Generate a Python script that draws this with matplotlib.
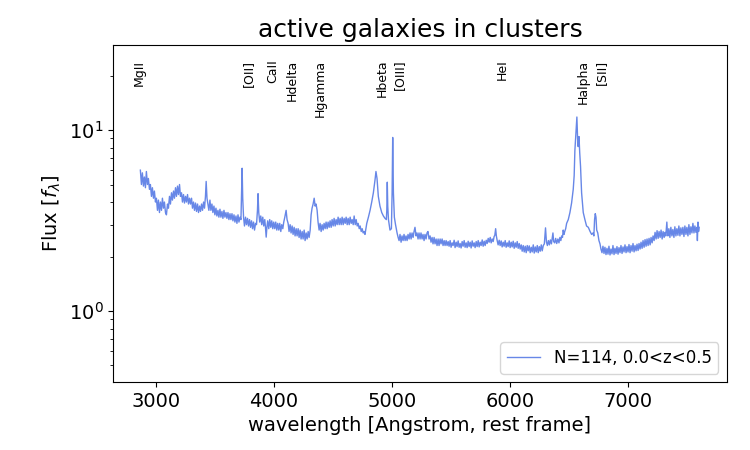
import matplotlib
matplotlib.use("Agg")
import matplotlib.pyplot as plt

# ---- spectrum (rest-frame wavelength [A], flux f_lambda) ----
wave = [
    2866, 2875, 2883, 2892, 2900, 2909, 2917, 2926, 2934, 2943,
    2951, 2960, 2968, 2977, 2985, 2994,
    3002, 3011, 3019, 3028, 3036, 3045, 3053, 3062, 3070, 3079, 3087, 3096,
    3104, 3113, 3121, 3130, 3138, 3147, 3155, 3164, 3172, 3181, 3189, 3198, 3206,
    3215, 3223, 3232, 3240, 3249, 3257, 3266, 3274, 3283, 3291, 3300,
    3308, 3317, 3325, 3334, 3342, 3351, 3359, 3368, 3376, 3385, 3393, 3402, 3410, 3418, 3424, 3431,
    3439, 3447, 3456, 3464, 3473, 3481, 3490, 3498, 3507, 3515,
    3524, 3532, 3541, 3549, 3558, 3566, 3575, 3583, 3592, 3600, 3609, 3617, 3626, 3634,
    3643, 3651, 3660, 3668, 3677, 3685, 3694, 3702, 3711, 3719,
    3724, 3729, 3734,
    3741, 3749, 3758, 3766, 3775, 3783, 3792, 3800, 3809, 3817, 3826, 3834, 3843, 3851, 3859, 3864, 3870,
    3878, 3887, 3895, 3904, 3912, 3921, 3927, 3933, 3939,
    3946, 3955, 3963, 3972, 3980, 3989, 3997, 4006, 4014, 4023, 4031, 4040, 4048, 4057, 4065, 4074, 4082, 4091, 4102, 4110,
    4119, 4127, 4136, 4144, 4153, 4161, 4170, 4178, 4187, 4195, 4204, 4212, 4221, 4229, 4238, 4246, 4255, 4263, 4272, 4280, 4289, 4297, 4306,
    4314, 4322, 4331, 4340, 4348, 4356, 4365, 4373,
    4382, 4390, 4399, 4407, 4416, 4424, 4433, 4441, 4450, 4458, 4467,
    4475, 4484, 4492, 4501, 4509, 4518, 4526, 4535, 4543, 4552, 4560, 4569, 4577, 4586, 4594, 4603, 4611, 4620, 4628, 4637, 4645, 4654, 4662, 4671, 4679, 4688, 4696,
    4705, 4713, 4722, 4730, 4739, 4747, 4756, 4764, 4771, 4786,
    4800, 4814, 4828, 4842, 4856, 4864, 4873, 4884, 4898, 4913, 4927, 4941, 4952, 4956, 4960, 4964, 4970, 4983, 4995, 5001, 5006, 5012, 5020, 5030, 5043, 5052,
    5060, 5068, 5077, 5085, 5094, 5102, 5111, 5119, 5128,
    5136, 5145, 5153, 5162, 5170, 5179, 5187, 5195, 5204, 5212, 5221, 5229, 5238, 5246, 5255, 5263, 5272, 5280, 5289, 5297, 5305, 5314,
    5323, 5331, 5340, 5348, 5357, 5365, 5374, 5382, 5391, 5399, 5408, 5416, 5425, 5433, 5442, 5450, 5459,
    5467, 5476, 5484, 5493, 5501, 5510, 5518, 5527, 5535, 5544, 5552, 5561, 5569, 5578, 5586, 5595, 5603, 5612, 5620, 5629,
    5637, 5646, 5654, 5663, 5671, 5680, 5688, 5697, 5705, 5714, 5722, 5731, 5739, 5748, 5756, 5765, 5773, 5782, 5790, 5799,
    5807, 5816, 5824, 5833, 5841, 5850, 5858, 5866, 5872, 5879, 5885, 5892,
    5900, 5909, 5917, 5926, 5934, 5943, 5951, 5960, 5968, 5977, 5985, 5994, 6002, 6011, 6019, 6028, 6036, 6045, 6053, 6062, 6070, 6079,
    6087, 6096, 6104, 6113, 6121, 6130, 6138, 6147, 6155, 6164, 6172, 6181, 6189, 6198, 6206, 6215, 6223, 6232, 6240, 6249,
    6257, 6266, 6274, 6283, 6292, 6302, 6310,
    6318, 6326, 6335, 6343, 6352, 6358, 6365, 6371, 6380, 6388, 6397,
    6407, 6416, 6424, 6432, 6439, 6446, 6452, 6459, 6465, 6473, 6481, 6495, 6509, 6523, 6537, 6545, 6551, 6559, 6568, 6574,
    6579, 6586, 6592, 6599, 6608,
    6622, 6636, 6650, 6665, 6680, 6693, 6705, 6712, 6718, 6724, 6730, 6736, 6745, 6755, 6764,
    6772, 6781, 6789, 6798, 6806, 6815, 6823, 6832, 6840, 6849, 6857, 6866, 6874, 6883, 6891, 6900, 6908, 6917, 6925, 6934,
    6942, 6951, 6959, 6968, 6976, 6985, 6993, 7002, 7010, 7019, 7027, 7036, 7044, 7053, 7061, 7070, 7078, 7087, 7095,
    7104, 7112, 7121, 7129, 7138, 7146, 7155, 7163, 7172, 7180, 7189, 7197, 7206,
    7214, 7223, 7231, 7240, 7248, 7257, 7265, 7274, 7282, 7291, 7299, 7308, 7316, 7322, 7328, 7331, 7336, 7340,
    7348, 7357, 7365, 7374, 7382, 7391, 7399, 7408, 7416, 7425, 7433, 7442, 7450, 7459, 7467, 7476, 7484, 7493, 7501, 7510,
    7518, 7527, 7535, 7544, 7552, 7561, 7569, 7578, 7586, 7590, 7595, 7600, 7605,
]
flux = [
    6.0, 5.0, 5.8, 4.9, 5.5, 4.8, 5.9, 5.0, 5.4, 4.7,
    5.0, 4.3, 4.8, 4.2, 4.6, 4.0,
    4.2, 3.6, 4.1, 3.5, 4.0, 3.6, 4.2, 3.7, 4.0, 3.5, 3.4, 3.9,
    3.7, 4.3, 3.9, 4.5, 4.1, 4.6, 4.2, 4.8, 4.3, 4.9, 4.4, 5.0, 4.3,
    4.5, 4.0, 4.4, 3.95, 4.3, 4.0, 4.4, 3.9, 4.2, 3.9, 4.2,
    3.7, 4.0, 3.6, 3.95, 3.55, 3.9, 3.5, 3.8, 3.55, 3.9, 3.6, 4.0, 3.7, 4.3, 5.2, 4.2,
    3.9, 3.6, 4.1, 3.6, 3.9, 3.5, 3.8, 3.4, 3.7, 3.35,
    3.6, 3.3, 3.65, 3.3, 3.55, 3.25, 3.6, 3.3, 3.5, 3.25, 3.5, 3.2, 3.45, 3.2,
    3.45, 3.15, 3.4, 3.1, 3.35, 3.05, 3.4, 3.1, 3.3, 3.2,
    4.5, 6.15, 4.2,
    3.3, 2.95, 3.3, 3.0, 3.25, 2.95, 3.2, 2.9, 3.15, 2.85, 3.1, 2.8, 3.05, 3.0, 3.6, 4.45, 3.5,
    3.1, 3.35, 3.0, 3.3, 2.95, 3.2, 2.9, 2.56, 2.9,
    3.15, 2.85, 3.2, 2.9, 3.15, 2.85, 3.1, 2.85, 3.1, 2.8, 3.05, 2.8, 3.05, 2.75, 3.0, 2.85, 3.1, 3.3, 3.6, 3.2,
    3.05, 2.75, 3.0, 2.7, 2.95, 2.65, 2.9, 2.6, 2.85, 2.6, 2.85, 2.55, 2.8, 2.5, 2.75, 2.5, 2.8, 2.45, 2.7, 2.5, 2.75, 2.55, 2.8,
    3.4, 3.7, 3.9, 4.2, 3.8, 3.9, 3.6, 3.1,
    2.8, 3.05, 2.75, 3.0, 2.8, 3.05, 2.85, 3.1, 2.85, 3.1, 2.9,
    3.15, 2.9, 3.2, 2.95, 3.25, 2.95, 3.2, 3.0, 3.3, 3.0, 3.25, 3.0, 3.3, 3.0, 3.25, 3.05, 3.3, 3.0, 3.25, 3.0, 3.3, 3.05, 3.2, 3.0, 3.35, 3.0, 3.2,
    2.95, 3.05, 2.85, 2.95, 2.75, 2.85, 2.7, 2.75, 2.65, 3.05,
    3.3, 3.6, 4.0, 4.5, 5.3, 5.9, 5.4, 4.3, 3.8, 3.5, 3.35, 3.25, 3.2, 3.6, 5.15, 3.8, 3.2, 2.8, 2.85, 4.5, 9.1, 4.5, 3.3, 3.0, 2.7, 2.55,
    2.45, 2.65, 2.4, 2.6, 2.45, 2.65, 2.45, 2.6, 2.45,
    2.65, 2.5, 2.7, 2.5, 2.7, 2.55, 2.75, 2.9, 2.6, 2.7, 2.5, 2.7, 2.5, 2.7, 2.5, 2.65, 2.45, 2.65, 2.5, 2.7, 2.75, 2.5,
    2.6, 2.4, 2.55, 2.35, 2.55, 2.35, 2.5, 2.3, 2.5, 2.3, 2.5, 2.35, 2.5, 2.3, 2.45, 2.3, 2.45,
    2.3, 2.42, 2.28, 2.45, 2.25, 2.38, 2.3, 2.46, 2.24, 2.4, 2.27, 2.44, 2.25, 2.36, 2.23, 2.42, 2.28, 2.45, 2.25, 2.38,
    2.24, 2.43, 2.27, 2.4, 2.23, 2.44, 2.28, 2.38, 2.24, 2.42, 2.27, 2.45, 2.26, 2.4, 2.3, 2.47, 2.28, 2.43, 2.3, 2.46,
    2.36, 2.52, 2.4, 2.55, 2.38, 2.5, 2.42, 2.58, 2.62, 2.85, 2.6, 2.45,
    2.32, 2.46, 2.3, 2.44, 2.26, 2.4, 2.28, 2.45, 2.25, 2.38, 2.27, 2.44, 2.24, 2.4, 2.26, 2.43, 2.22, 2.38, 2.25, 2.42, 2.22, 2.36,
    2.2, 2.32, 2.14, 2.3, 2.12, 2.28, 2.1, 2.3, 2.15, 2.29, 2.1, 2.25, 2.12, 2.32, 2.09, 2.26, 2.12, 2.3, 2.1, 2.27,
    2.14, 2.32, 2.15, 2.3, 2.35, 2.88, 2.4,
    2.3, 2.45, 2.32, 2.47, 2.35, 2.5, 2.7, 2.42, 2.38, 2.52, 2.36,
    2.5, 2.38, 2.55, 2.45, 2.6, 2.55, 2.8, 2.65, 2.75, 2.85, 3.05, 3.2, 3.5, 3.95, 4.7, 5.6, 7.7, 9.5, 11.8, 9.0,
    8.1, 9.2, 7.5, 6.3, 4.5,
    3.5, 3.2, 2.95, 2.9, 2.75, 2.65, 2.7, 2.6, 3.2, 3.45, 3.3, 2.8, 2.7, 2.45, 2.35,
    2.2, 2.1, 2.28, 2.08, 2.25, 2.05, 2.22, 2.06, 2.28, 2.04, 2.2, 2.07, 2.3, 2.05, 2.22, 2.08, 2.27, 2.06, 2.24, 2.1,
    2.3, 2.08, 2.26, 2.12, 2.32, 2.1, 2.27, 2.12, 2.33, 2.1, 2.3, 2.14, 2.36, 2.12, 2.3, 2.15, 2.34, 2.16, 2.36,
    2.2, 2.4, 2.22, 2.45, 2.25, 2.48, 2.28, 2.5, 2.3, 2.52, 2.32, 2.55, 2.38,
    2.6, 2.45, 2.72, 2.5, 2.78, 2.52, 2.75, 2.55, 2.8, 2.5, 2.75, 2.55, 2.72, 2.6, 2.9, 3.1, 2.7, 2.6,
    2.85, 2.55, 2.9, 2.6, 2.82, 2.55, 2.92, 2.6, 2.85, 2.62, 2.95, 2.6, 2.88, 2.65, 2.9, 2.58, 2.95, 2.65, 2.9, 2.6,
    3.0, 2.65, 2.92, 2.7, 3.05, 2.7, 2.95, 2.72, 2.9, 2.45, 3.1, 2.75, 2.9,
]

line_names = ["MgII", "[OII]", "CaII", "Hdelta", "Hgamma", "Hbeta", "[OIII]",
              "HeI", "Halpha", "[SII]"]
line_waves = [2798, 3727, 3934, 4102, 4340, 4861, 5007, 5876, 6563, 6717]

legend_label = "N=114, 0.0<z<0.5"

fig = plt.figure(figsize=(7.5, 4.5), dpi=100)
ax = fig.add_axes([0.151, 0.151, 0.818, 0.749])

ax.plot(wave, flux, color="royalblue", alpha=0.8, lw=1.0, label=legend_label)
ax.set_yscale("log")
ax.set_xlim(2636, 7839)
ax.set_ylim(0.405, 29.5)

for name, w in zip(line_names, line_waves):
    ax.text(w, 24.5, name, rotation=90, fontsize=9, ha="left", va="top")

ax.set_title("active galaxies in clusters", fontsize=18)
ax.set_xlabel("wavelength [Angstrom, rest frame]", fontsize=14)
ax.set_ylabel(r"Flux [$f_{\lambda}$]", fontsize=14)
ax.tick_params(axis="both", which="major", labelsize=14)
ax.set_xticks([3000, 4000, 5000, 6000, 7000])
ax.legend(loc="lower right", fontsize=12)

fig.savefig("out.png", dpi=100)
